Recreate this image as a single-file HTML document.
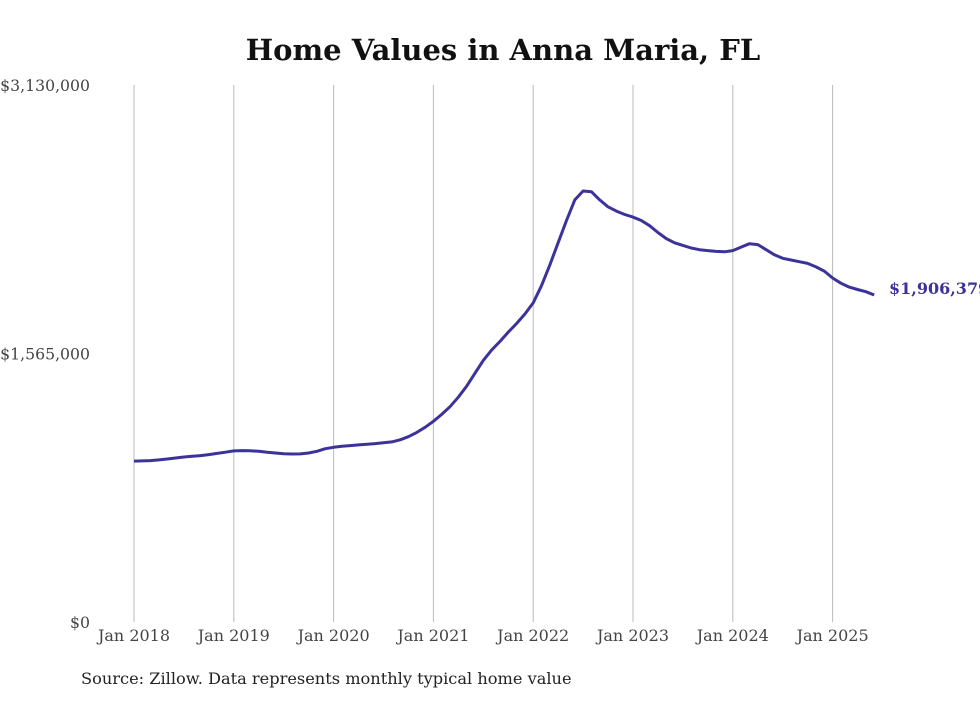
<!DOCTYPE html>
<html><head><meta charset="utf-8"><style>
body{margin:0;background:#fff;width:980px;height:699px;overflow:hidden;font-family:"DejaVu Serif",serif}
</style></head><body>
<svg id="chart" width="980" height="699" xmlns="http://www.w3.org/2000/svg">
<text x="503" y="60" text-anchor="middle" font-family="DejaVu Serif, serif" font-weight="bold" font-size="29" fill="#111">Home Values in Anna Maria, FL</text>
<g id="grid"></g><g id="yt"></g><g id="xt"></g>
<path id="line" fill="none" stroke="#3b3399" stroke-width="3" stroke-linejoin="round"/>
<text x="889" y="294" font-family="DejaVu Serif, serif" font-weight="bold" font-size="16" fill="#3b3399">$1,906,379</text>
<text x="81" y="684" font-family="DejaVu Serif, serif" font-size="16.2" fill="#222">Source: Zillow. Data represents monthly typical home value</text>
</svg>
<script>
const yTicks=[0,1565000,3130000];
const yTickLabels=["$0","$1,565,000","$3,130,000"];
const xTickLabels=["Jan 2018","Jan 2019","Jan 2020","Jan 2021","Jan 2022","Jan 2023","Jan 2024","Jan 2025"];
const values=[938,939,941,945,950,956,962,966,970,976,983,990,
997,999,998,995,990,985,981,979,980,985,995,1010,
1018,1024,1028,1032,1036,1040,1045,1050,1062,1080,1105,1135,
1170,1210,1255,1310,1375,1450,1525,1585,1635,1690,1740,1795,
1860,1960,2080,2210,2340,2460,2512,2508,2460,2420,2395,2375,
2360,2340,2310,2270,2235,2210,2195,2180,2170,2165,2160,2158,
2165,2185,2205,2200,2170,2140,2120,2110,2100,2090,2070,2045,
2005,1975,1952,1938,1925,1906].map(v=>v*1000);
const x0=134,perMonth=99.8/12,yBase=622,yTop=85,yMax=3130000;
const X=i=>x0+i*perMonth, Y=v=>yBase-(v/yMax)*(yBase-yTop);
const NS="http://www.w3.org/2000/svg";
const g=document.getElementById('grid'),yt=document.getElementById('yt'),xt=document.getElementById('xt');
xTickLabels.forEach((l,k)=>{
 const x=X(k*12);
 const ln=document.createElementNS(NS,'line');
 
 
 ln.setAttribute('x1',x);ln.setAttribute('x2',x);ln.setAttribute('y1',yTop);ln.setAttribute('y2',yBase);
 ln.setAttribute('stroke','#bbb');ln.setAttribute('stroke-width','1');g.appendChild(ln);
 const t=document.createElementNS(NS,'text');
 
 
 t.setAttribute('x',x);t.setAttribute('y',641);t.setAttribute('text-anchor','middle');
 t.setAttribute('font-size','16');t.setAttribute('fill','#444');t.setAttribute('font-family','DejaVu Serif, serif');
 t.textContent=l;xt.appendChild(t);
});
yTicks.forEach((v,k)=>{
 const t=document.createElementNS(NS,'text');
 
 
 t.setAttribute('x',90);t.setAttribute('y',Y(v)+6);t.setAttribute('text-anchor','end');
 t.setAttribute('font-size','15.7');t.setAttribute('fill','#444');t.setAttribute('font-family','DejaVu Serif, serif');
 t.textContent=yTickLabels[k];yt.appendChild(t);
});
document.getElementById('line').setAttribute('d',values.map((v,i)=>(i?'L':'M')+X(i).toFixed(1)+','+Y(v).toFixed(1)).join(''));
</script>
</body></html>
